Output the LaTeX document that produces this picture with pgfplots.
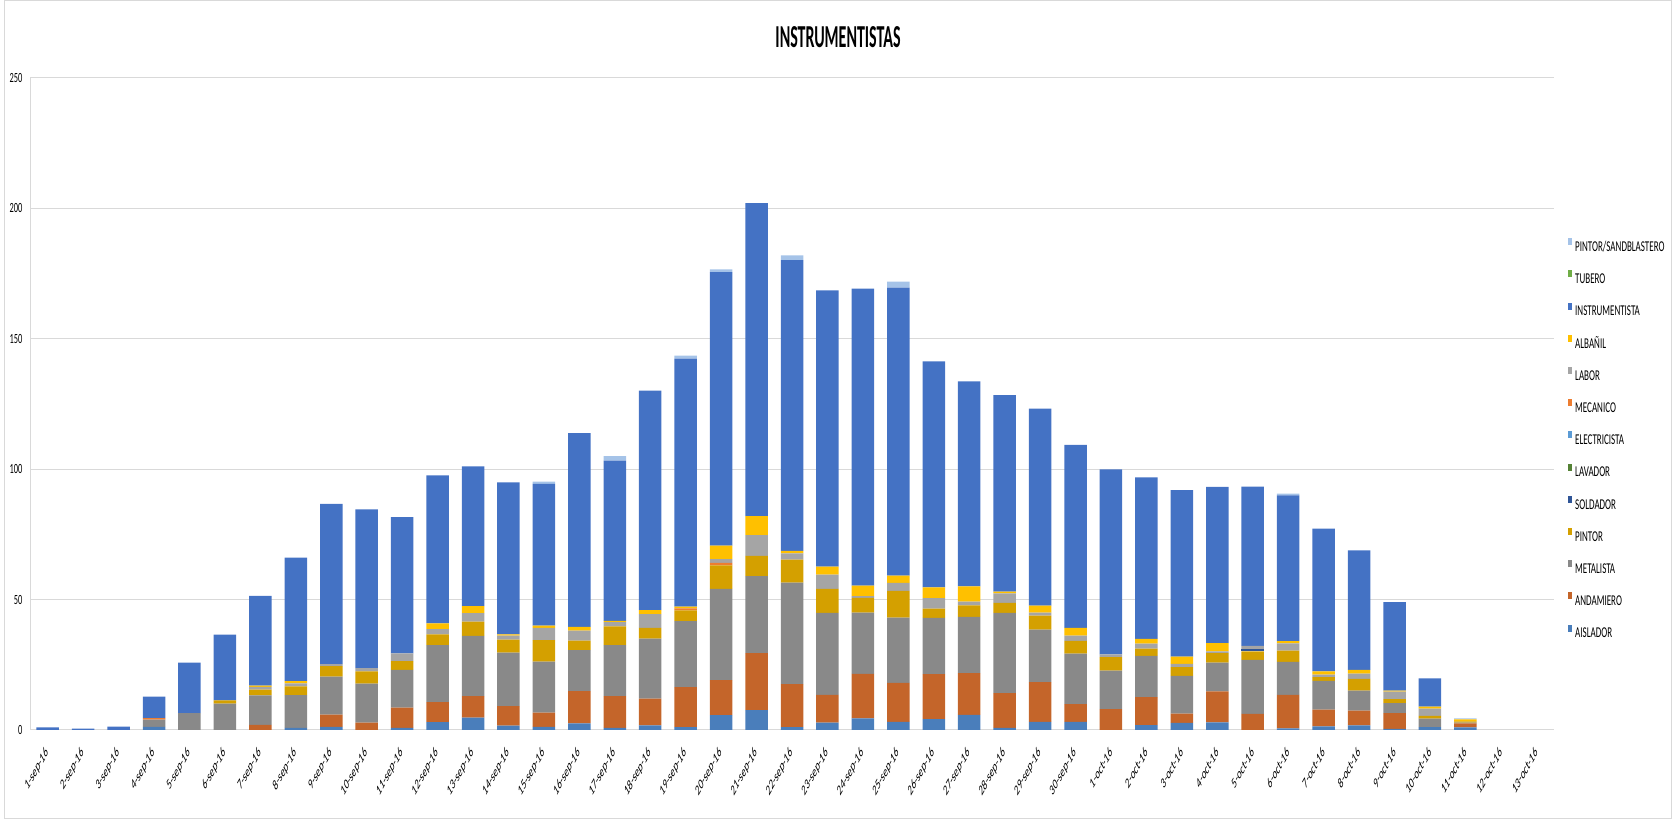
\documentclass[border=0pt]{standalone}
\usepackage{pgfplots}
\pgfplotsset{compat=1.18}
\usepackage{pgfplotstable}
\usepackage{graphicx}
\usepackage{fontspec}
\setmainfont{Carlito}[FakeStretch=0.6]
\newfontfamily\plainfont{Carlito}
\newfontfamily\titlefont{Carlito}[FakeStretch=0.5]

\definecolor{gridgray}{HTML}{D9D9D9}
\definecolor{cAIS}{HTML}{4A7EBB}
\definecolor{cAND}{HTML}{C4652A}
\definecolor{cMET}{HTML}{898989}
\definecolor{cPIN}{HTML}{D4A000}
\definecolor{cSOL}{HTML}{2F5597}
\definecolor{cLAV}{HTML}{548235}
\definecolor{cELE}{HTML}{5B9BD5}
\definecolor{cMEC}{HTML}{ED7D31}
\definecolor{cLAB}{HTML}{A5A5A5}
\definecolor{cALB}{HTML}{FFC000}
\definecolor{cINS}{HTML}{4472C4}
\definecolor{cTUB}{HTML}{70AD47}
\definecolor{cPS}{HTML}{A5C3E8}

% rotated, horizontally narrowed date label
\newcommand{\xl}[1]{\scalebox{0.55}[1]{\rotatebox{45}{#1}}}

% daily headcount by trade
\pgfplotstableread{
x  AIS AND  MET  PIN  SOL LAV ELE MEC LAB ALB INS   TUB PS
0  0   0    0    0    0   0   0   0   0   0   1.0   0   0
1  0   0    0    0    0   0   0   0   0   0   0.5   0   0
2  0   0    0    0    0   0   0   0   0   0   1.3   0   0
3  1.2 0    2.8  0    0   0   0   0.6 0   0   8.2   0   0
4  0   0    6.5  0    0   0   0   0   0   0   19.3  0   0
5  0   0    10.1 1.3  0   0   0   0   0   0   25.2  0   0
6  0   2.0  11.3 2.2  0   0   0   0   1.0 0.5 34.4  0   0
7  0.8 0    12.6 3.3  0   0   0   0   1.2 0.8 47.4  0   0
8  1.2 4.7  14.6 4.0  0   0   0   0   0.8 0   61.4  0   0
9  0   2.8  15.0 4.7  0   0   0   0   1.2 0   60.9  0   0
10 0.8 7.8  14.5 3.3  0   0   0   0   3.0 0   52.2  0   0
11 3.0 7.7  21.8 4.2  0   0   0   0   2.0 2.2 56.7  0   0
12 4.7 8.3  23.1 5.5  0   0   0   0   3.2 2.7 53.6  0   0
13 1.7 7.5  20.5 5.0  0   0   0   0   1.5 0.5 58.2  0   0
14 1.2 5.5  19.5 8.3  0   0   0   0   4.7 0.8 54.4  0   0.8
15 2.5 12.4 15.7 3.7  0   0   0   0   3.8 1.4 74.3  0   0
16 0.8 12.2 19.5 7.2  0   0   0   0   1.7 0.4 61.5  0   1.7
17 1.8 10.2 23.0 4.2  0   0   0   0   5.2 1.6 84.1  0   0
18 1.1 15.3 25.3 4.2  0   0   0   0.7 0   0.7 95.1  0   1.1
19 5.7 13.4 35.0 9.0  0   0   0   1.0 1.4 5.2 104.9 0   1.0
20 7.6 21.9 29.5 7.8  0   0   0   0   7.9 7.3 120.0 0   0
21 1.1 16.5 38.9 8.8  0   0   0   0   2.4 1.0 111.5 0   1.8
22 2.8 10.7 31.4 9.2  0   0   0   0   5.5 3.0 106.0 0   0
23 4.5 17.0 23.5 5.7  0   0   0   0   0.6 4.1 113.8 0   0
24 3.1 15.0 25.0 10.2 0   0   0   0   3.1 2.8 110.4 0   2.3
25 4.2 17.2 21.6 3.5  0   0   0   0   4.1 4.1 86.6  0   0
26 5.8 16.0 21.6 4.4  0   0   0   0   1.4 5.9 78.6  0   0
27 0.8 13.3 30.8 3.8  0   0   0   0   3.7 0.7 75.3  0   0
28 3.1 15.3 20.1 5.4  0   0   0   0   1.1 2.7 75.5  0   0
29 3.1 6.8  19.4 4.9  0   0   0   0   2.0 3.0 70.1  0   0
30 0   8.0  14.8 5.1  0   0   0   0   1.1 0   70.9  0   0
31 1.9 10.7 15.8 2.8  0   0   0   0   1.9 1.8 62.0  0   0
32 2.7 3.6  14.5 3.3  0   0   0   0   1.3 2.7 63.9  0   0
33 2.9 11.9 11.0 3.7  0   0   0   0   0.6 3.2 59.9  0   0
34 0   6.2  20.7 3.2  0.9 0   0   0   1.3 0   61.0  0   0
35 0.6 12.9 12.6 4.3  0   0   0   0   2.8 0.9 55.9  0   0.6
36 1.4 6.4  11.0 1.5  0   0   0   0   0.9 1.3 54.7  0   0
37 1.8 5.6  7.7  4.5  0   0   0   0   2.0 1.5 45.8  0   0
38 0.4 6.1  3.8  1.5  0   0   0   0   2.9 0.4 33.9  0   0
39 1.1 0    3.3  1.0  0   0   0   0   2.8 0.8 10.8  0   0
40 1.0 1.5  0.3  0.5  0   0   0   0   0   0.8 0     0   0.4
41 0   0    0    0    0   0   0   0   0   0   0     0   0
42 0   0    0    0    0   0   0   0   0   0   0     0   0
}\datatable

\begin{document}
\begin{tikzpicture}
\useasboundingbox (0,0) rectangle (1674bp,820bp);
% chart area frame
\draw[gridgray, line width=1bp] (4bp,1.5bp) rectangle (1671bp,819.5bp);
\node[font=\titlefont\bfseries\fontsize{32bp}{36bp}\selectfont, inner sep=0pt]
  at (838bp,783bp) {INSTRUMENTISTAS};
\begin{axis}[
  at={(30bp,90bp)}, anchor=south west,
  width=1524bp, height=652bp, scale only axis,
  ybar stacked, bar width=22.5bp,
  xmin=-0.5, xmax=42.5, ymin=0, ymax=250,
  ytick={0,50,...,250},
  xtick={0,...,42},
  xticklabels={\xl{1-sep-16},\xl{2-sep-16},\xl{3-sep-16},\xl{4-sep-16},\xl{5-sep-16},
    \xl{6-sep-16},\xl{7-sep-16},\xl{8-sep-16},\xl{9-sep-16},\xl{10-sep-16},
    \xl{11-sep-16},\xl{12-sep-16},\xl{13-sep-16},\xl{14-sep-16},\xl{15-sep-16},
    \xl{16-sep-16},\xl{17-sep-16},\xl{18-sep-16},\xl{19-sep-16},\xl{20-sep-16},
    \xl{21-sep-16},\xl{22-sep-16},\xl{23-sep-16},\xl{24-sep-16},\xl{25-sep-16},
    \xl{26-sep-16},\xl{27-sep-16},\xl{28-sep-16},\xl{29-sep-16},\xl{30-sep-16},
    \xl{1-oct-16},\xl{2-oct-16},\xl{3-oct-16},\xl{4-oct-16},\xl{5-oct-16},
    \xl{6-oct-16},\xl{7-oct-16},\xl{8-oct-16},\xl{9-oct-16},\xl{10-oct-16},
    \xl{11-oct-16},\xl{12-oct-16},\xl{13-oct-16}},
  xticklabel style={font=\plainfont\fontsize{15bp}{17bp}\selectfont,
    anchor=north east, inner sep=0pt, yshift=-16bp, xshift=2bp},
  yticklabel style={font=\fontsize{14bp}{16bp}\selectfont,
    anchor=east, inner sep=0pt, xshift=-7.5bp},
  /pgf/number format/assume math mode=true,
  ymajorgrids, grid style={draw=gridgray, line width=1bp},
  axis x line*=bottom, axis y line*=left,
  axis line style={draw=gridgray, line width=1bp},
  major tick length=0pt,
  every axis plot/.append style={draw=none},
  reverse legend,
  legend cell align=left,
  legend style={at={(1.0092,0.7546)}, anchor=north west, draw=none, fill=none,
    inner sep=0pt, row sep=19bp,
    font=\fontsize{15bp}{17bp}\selectfont,
    nodes={inner sep=0pt, text height=10bp, text depth=0bp},
    /tikz/every odd column/.append style={column sep=3.5bp}},
  legend image code/.code={\fill[#1] (0bp,1.2bp) rectangle (3.5bp,8.2bp);},
]
\addplot[fill=cAIS] table[x=x,y=AIS]{\datatable};
\addplot[fill=cAND] table[x=x,y=AND]{\datatable};
\addplot[fill=cMET] table[x=x,y=MET]{\datatable};
\addplot[fill=cPIN] table[x=x,y=PIN]{\datatable};
\addplot[fill=cSOL] table[x=x,y=SOL]{\datatable};
\addplot[fill=cLAV] table[x=x,y=LAV]{\datatable};
\addplot[fill=cELE] table[x=x,y=ELE]{\datatable};
\addplot[fill=cMEC] table[x=x,y=MEC]{\datatable};
\addplot[fill=cLAB] table[x=x,y=LAB]{\datatable};
\addplot[fill=cALB] table[x=x,y=ALB]{\datatable};
\addplot[fill=cINS] table[x=x,y=INS]{\datatable};
\addplot[fill=cTUB] table[x=x,y=TUB]{\datatable};
\addplot[fill=cPS] table[x=x,y=PS]{\datatable};
\legend{AISLADOR,ANDAMIERO,METALISTA,PINTOR,SOLDADOR,LAVADOR,ELECTRICISTA,
  MECANICO,LABOR,ALBAÑIL,INSTRUMENTISTA,TUBERO,PINTOR/SANDBLASTERO}
\end{axis}
\end{tikzpicture}
\end{document}
